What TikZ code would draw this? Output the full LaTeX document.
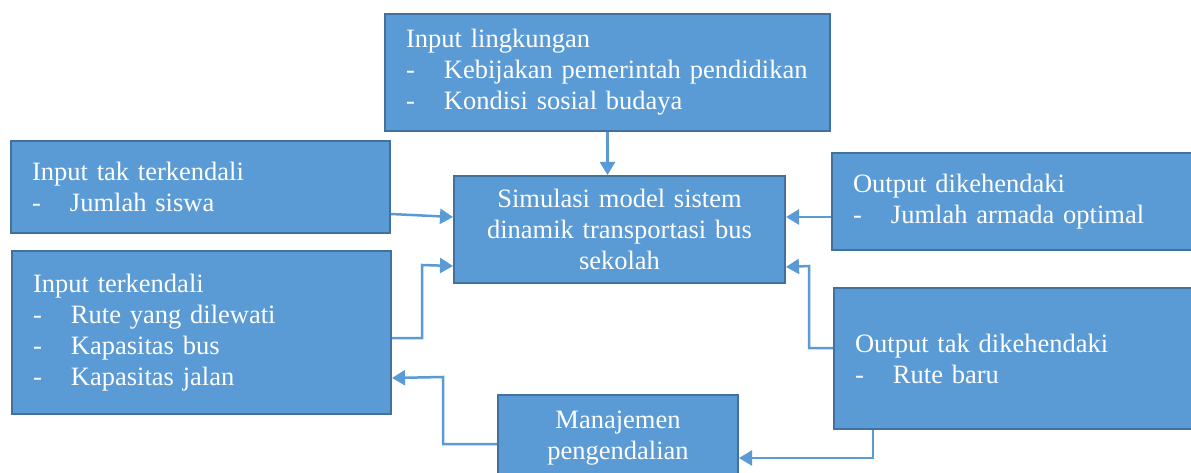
\documentclass[tikz,border=0pt]{standalone}
\usepackage{fontspec}
\setmainfont{Liberation Serif}
\usetikzlibrary{arrows.meta,calc}
\definecolor{boxfill}{HTML}{5B9BD5}
\definecolor{boxline}{HTML}{41719C}
\definecolor{arrowc}{HTML}{5B9BD5}
\newcommand{\itemdash}{\makebox[38pt][l]{-}}
\begin{document}
\begin{tikzpicture}[x=1pt,y=-1pt,
  blockbox/.style={draw=boxline, fill=boxfill, line width=2pt, rectangle, anchor=north west,
    inner xsep=21pt, inner ysep=0pt, text=white, font=\fontsize{26.5}{31}\selectfont, align=left},
  centerbox/.style={blockbox, align=center},
  conn/.style={draw=arrowc, line width=2.5pt, -{Triangle[length=13pt,width=15pt]}}]
\useasboundingbox (0,0) rectangle (1191,473);
\fill[white] (0,0) rectangle (1191,473);
\clip (0,0) rectangle (1191,473);

\node[blockbox, minimum width=445pt, minimum height=117pt, text width=403pt] (env) at (384,13)
  {Input lingkungan\\ \itemdash Kebijakan pemerintah pendidikan\\ \itemdash Kondisi sosial budaya};
\node[blockbox, minimum width=379pt, minimum height=92pt, text width=337pt] (intak) at (10,140)
  {Input tak terkendali\\ \itemdash Jumlah siswa};
\node[blockbox, minimum width=379pt, minimum height=163pt, text width=337pt] (interk) at (11,250)
  {Input terkendali\\ \itemdash Rute yang dilewati\\ \itemdash Kapasitas bus\\ \itemdash Kapasitas jalan};
\node[centerbox, minimum width=331pt, minimum height=107pt, text width=289pt] (sim) at (453,175)
  {Simulasi model sistem\\ dinamik transportasi bus\\ sekolah};
\node[blockbox, minimum width=380pt, minimum height=97pt, text width=338pt] (outd) at (831,152)
  {Output dikehendaki\\ \itemdash Jumlah armada optimal};
\node[blockbox, minimum width=380pt, minimum height=141pt, text width=338pt] (outt) at (833,287)
  {Output tak dikehendaki\\ \itemdash Rute baru};
\node[centerbox, minimum width=240pt, minimum height=86pt, text width=198pt] (manaj) at (497,394)
  {Manajemen\\ pengendalian};

\draw[conn] (env.south) -- (env.south |- sim.north);
\draw[conn] ([yshift=-27pt]intak.east) -- ([yshift=12.5pt]sim.west);
\draw[conn] ([yshift=-5.5pt]interk.east) -| (422,265) -- ([yshift=-36.5pt]sim.west);
\draw[conn] ([yshift=-15.5pt]outd.west) -- ([yshift=-15.5pt]outd.west -| sim.east);
\draw[conn] ([yshift=10.5pt]outt.west) -| (809,266) -- ([yshift=-37.5pt]sim.east);
\draw[conn] ([xshift=40pt]outt.south west) |- ([yshift=-20pt]manaj.east);
\draw[conn] ([yshift=-6pt]manaj.west) -| (443,377) -- ([yshift=-45.5pt]interk.east);
\end{tikzpicture}
\end{document}
